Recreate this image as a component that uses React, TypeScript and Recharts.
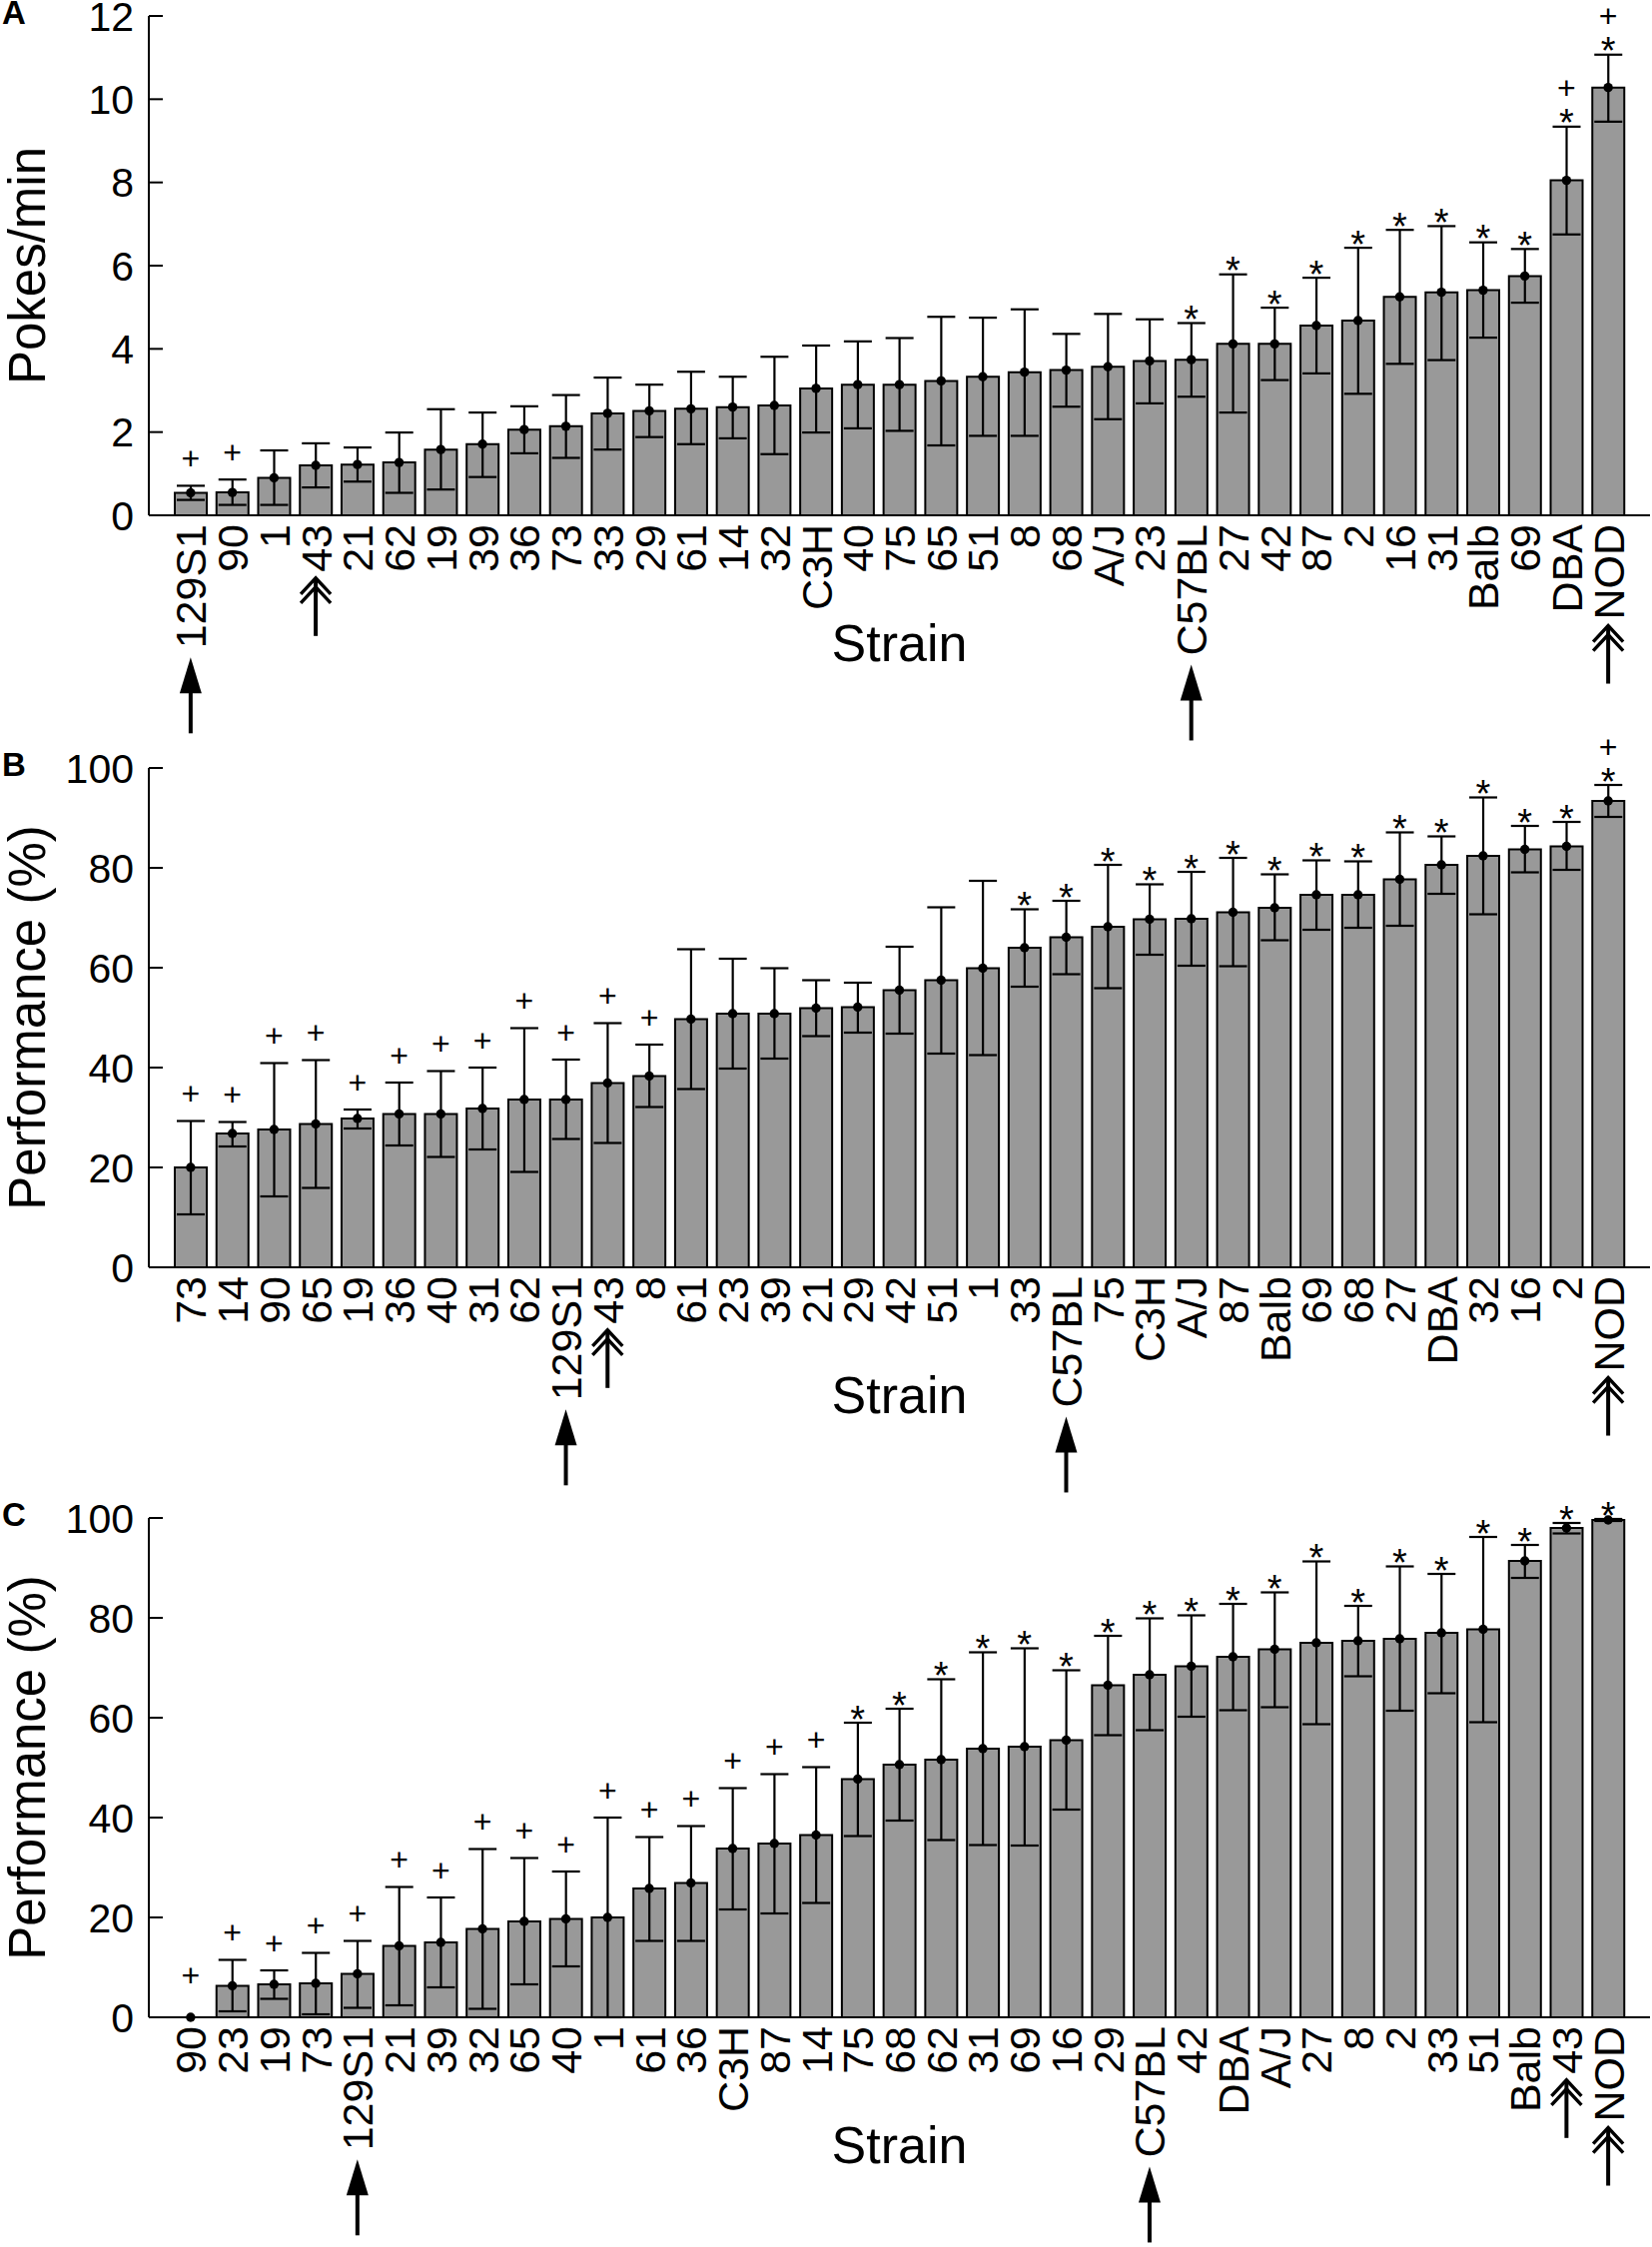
import React from 'react'
import { ComposedChart, Bar, Line, XAxis, YAxis, ErrorBar, Label } from 'recharts'

const FONT = '"Liberation Sans", Arial, sans-serif'

// Panel A: pokes per minute
const strainsA = ['129S1', '90', '1', '43', '21', '62', '19', '39', '36', '73', '33', '29', '61', '14', '32', 'C3H', '40', '75', '65', '51', '8', '68', 'A/J', '23', 'C57BL', '27', '42', '87', '2', '16', '31', 'Balb', '69', 'DBA', 'NOD']
const meanA = [0.54, 0.55, 0.9, 1.2, 1.22, 1.27, 1.58, 1.71, 2.06, 2.14, 2.45, 2.51, 2.56, 2.6, 2.64, 3.05, 3.14, 3.14, 3.23, 3.33, 3.44, 3.49, 3.57, 3.71, 3.74, 4.12, 4.12, 4.56, 4.68, 5.25, 5.36, 5.41, 5.75, 8.05, 10.28]
const lowA = [0.37, 0.25, 0.25, 0.67, 0.81, 0.54, 0.62, 0.92, 1.49, 1.38, 1.58, 1.88, 1.71, 1.85, 1.47, 1.99, 2.09, 2.03, 1.68, 1.91, 1.91, 2.61, 2.31, 2.69, 2.85, 2.47, 3.25, 3.41, 2.92, 3.64, 3.73, 4.27, 5.11, 6.75, 9.46]
const highA = [0.71, 0.86, 1.56, 1.73, 1.63, 1.99, 2.55, 2.47, 2.62, 2.89, 3.31, 3.14, 3.45, 3.33, 3.81, 4.08, 4.18, 4.26, 4.77, 4.75, 4.95, 4.36, 4.84, 4.71, 4.62, 5.79, 4.99, 5.71, 6.43, 6.86, 6.95, 6.56, 6.4, 9.34, 11.07]
const marksA = ['+', '+', '', '', '', '', '', '', '', '', '', '', '', '', '', '', '', '', '', '', '', '', '', '', '*', '*', '*', '*', '*', '*', '*', '*', '*', '*+', '*+']
const arrowsA: Record<string, string> = { '129S1': 'single', '43': 'double', C57BL: 'single', NOD: 'double' }

// Panel B: performance (%)
const strainsB = ['73', '14', '90', '65', '19', '36', '40', '31', '62', '129S1', '43', '8', '61', '23', '39', '21', '29', '42', '51', '1', '33', 'C57BL', '75', 'C3H', 'A/J', '87', 'Balb', '69', '68', '27', 'DBA', '32', '16', '2', 'NOD']
const meanB = [20.0, 26.8, 27.6, 28.7, 29.8, 30.7, 30.7, 31.8, 33.6, 33.6, 36.9, 38.3, 49.7, 50.8, 50.8, 51.9, 52.1, 55.5, 57.5, 59.9, 64.0, 66.1, 68.2, 69.7, 69.8, 71.1, 72.0, 74.6, 74.6, 77.7, 80.6, 82.4, 83.7, 84.3, 93.4]
const lowB = [10.6, 24.2, 14.2, 15.9, 27.8, 24.4, 22.1, 23.6, 19.1, 25.7, 24.9, 32.1, 35.7, 39.8, 41.8, 46.3, 47.0, 46.8, 42.8, 42.5, 56.2, 58.7, 55.9, 62.6, 60.4, 60.3, 65.5, 67.6, 68.0, 68.4, 74.8, 70.7, 79.1, 79.6, 90.2]
const highB = [29.3, 29.1, 40.9, 41.5, 31.6, 37.0, 39.3, 40.0, 47.9, 41.6, 48.9, 44.6, 63.7, 61.8, 59.9, 57.5, 57.0, 64.2, 72.1, 77.4, 71.7, 73.4, 80.6, 76.7, 79.2, 82.0, 78.7, 81.5, 81.3, 87.1, 86.3, 94.1, 88.4, 89.2, 96.6]
const marksB = ['+', '+', '+', '+', '+', '+', '+', '+', '+', '+', '+', '+', '', '', '', '', '', '', '', '', '*', '*', '*', '*', '*', '*', '*', '*', '*', '*', '*', '*', '*', '*', '*+']
const arrowsB: Record<string, string> = { '129S1': 'single', '43': 'double', C57BL: 'single', NOD: 'double' }

// Panel C: performance (%)
const strainsC = ['90', '23', '19', '73', '129S1', '21', '39', '32', '65', '40', '1', '61', '36', 'C3H', '87', '14', '75', '68', '62', '31', '69', '16', '29', 'C57BL', '42', 'DBA', 'A/J', '27', '8', '2', '33', '51', 'Balb', '43', 'NOD']
const meanC = [0, 6.3, 6.6, 6.8, 8.7, 14.3, 15.0, 17.7, 19.2, 19.7, 20.0, 25.8, 26.9, 33.8, 34.8, 36.5, 47.7, 50.6, 51.6, 53.8, 54.2, 55.5, 66.5, 68.6, 70.3, 72.2, 73.7, 75.0, 75.4, 75.8, 77.0, 77.7, 91.4, 98.0, 99.6]
const lowC = [0, 1.2, 3.7, 0.6, 1.9, 2.4, 6.0, 1.7, 6.6, 10.2, 0, 15.3, 15.3, 21.6, 20.8, 22.9, 36.3, 39.4, 35.5, 34.5, 34.4, 41.6, 56.5, 57.5, 60.2, 61.5, 62.1, 58.7, 68.3, 61.4, 64.9, 59.1, 88.0, 96.9, 99.4]
const highC = [2.9, 11.5, 9.4, 12.9, 15.3, 26.1, 24.0, 33.7, 31.9, 29.2, 40.0, 36.1, 38.3, 45.9, 48.7, 50.1, 59.0, 61.8, 67.7, 73.1, 73.9, 69.5, 76.4, 79.9, 80.5, 82.8, 85.1, 91.3, 82.4, 90.3, 88.8, 96.2, 94.6, 99.0, 99.8]
const marksC = ['+', '+', '+', '+', '+', '+', '+', '+', '+', '+', '+', '+', '+', '+', '+', '+', '*', '*', '*', '*', '*', '*', '*', '*', '*', '*', '*', '*', '*', '*', '*', '*', '*', '*', '*']
const arrowsC: Record<string, string> = { '129S1': 'single', C57BL: 'single', '43': 'double', NOD: 'double' }

const ticksA = [0, 2, 4, 6, 8, 10, 12]
const ticksPct = [0, 20, 40, 60, 80, 100]

// rough Arial advance widths, used to put the arrows just under the labels
const charW: Record<string, number> = { S: 0.667, C: 0.722, B: 0.667, L: 0.556, N: 0.722, O: 0.778, D: 0.722 }
const textLen = (s: string, size: number) => s.split('').reduce((sum, c) => sum + (charW[c] ?? 0.556), 0) * size

const LABEL_SIZE = 43

function StrainTick(props: any) {
  const { x, y, payload, arrows } = props
  const name = String(payload.value)
  const kind = arrows[name]
  const end = y + textLen(name, LABEL_SIZE)
  return (
    <g>
      <text
        transform={`translate(${x + 15.5},${y}) rotate(-90)`}
        textAnchor="end"
        fontSize={LABEL_SIZE}
        fontFamily={FONT}
        fill="#000"
      >
        {name}
      </text>
      {kind === 'single' && (
        <g transform={`translate(${x},${end + 9})`}>
          <polygon points="0,0 -11,36 11,36" fill="#000" />
          <line x1={0} y1={30} x2={0} y2={76} stroke="#000" strokeWidth={4} />
        </g>
      )}
      {kind === 'double' && (
        <g transform={`translate(${x},${end + 5})`} fill="none" stroke="#000" strokeWidth={3.4}>
          <polyline points="-15,17 0,1 15,17" />
          <polyline points="-15,26 0,10 15,26" />
          <line x1={0} y1={1} x2={0} y2={59} strokeWidth={4} />
        </g>
      )}
    </g>
  )
}

function ValueTick(props: any) {
  const { x, y, payload } = props
  const axisX = x + 15
  return (
    <g>
      <line x1={axisX} x2={axisX + 14} y1={y} y2={y} stroke="#000" strokeWidth={2} />
      <text x={x} y={y} dy="0.36em" textAnchor="end" fontSize={41} fontFamily={FONT} fill="#000">
        {payload.value}
      </text>
    </g>
  )
}

function MarkDot(props: any) {
  const { cx, cy, payload, index } = props
  const m = payload.mark
  if (!m || cy == null) return <g key={`m${index}`} />
  const star = m.includes('*')
  const plus = m.includes('+')
  const plusY = star ? cy - 38.5 : cy - 27.5
  return (
    <g key={`m${index}`} fontFamily={FONT} fill="#000" textAnchor="middle">
      {star && (
        <text x={cx} y={cy - 12.5 + 22} fontSize={38}>
          *
        </text>
      )}
      {plus && (
        <text x={cx} y={plusY + 11} fontSize={32}>
          +
        </text>
      )}
    </g>
  )
}

type PanelProps = {
  letter: string
  top: number
  strains: string[]
  mean: number[]
  low: number[]
  high: number[]
  marks: string[]
  arrows: Record<string, string>
  yMax: number
  yTicks: number[]
  yTitle: string
}

const W = 1654
const PLOT_TOP = 50
const PLOT_H = 500
const BOTTOM = 230
const H = PLOT_TOP + PLOT_H + BOTTOM

function Panel({ letter, top, strains, mean, low, high, marks, arrows, yMax, yTicks, yTitle }: PanelProps) {
  const rows = strains.map((s, i) => ({
    strain: s,
    mean: mean[i],
    err: [mean[i] - low[i], high[i] - mean[i]],
    top: high[i],
    mark: marks[i],
  }))

  return (
    <div style={{ position: 'absolute', left: 0, top: top - PLOT_TOP, width: W, height: H }}>
      <ComposedChart width={W} height={H} data={rows} margin={{ top: PLOT_TOP, right: 2, bottom: 0, left: 0 }}>
        <XAxis
          dataKey="strain"
          interval={0}
          height={BOTTOM}
          padding={{ left: 21, right: 21 }}
          tickLine={false}
          tickSize={0}
          tickMargin={9}
          axisLine={{ stroke: '#000', strokeWidth: 2 }}
          tick={(p: any) => <StrainTick {...p} arrows={arrows} />}
        >
          <Label
            content={(p: any) => {
              const vb = p.viewBox
              return (
                <text x={vb.x + vb.width / 2} y={vb.y + 146} textAnchor="middle" fontSize={52} fontFamily={FONT} fill="#000">
                  Strain
                </text>
              )
            }}
          />
        </XAxis>
        <YAxis
          type="number"
          domain={[0, yMax]}
          ticks={yTicks}
          interval={0}
          width={149}
          tickLine={false}
          tickSize={0}
          tickMargin={15}
          axisLine={{ stroke: '#000', strokeWidth: 2 }}
          tick={<ValueTick />}
        >
          <Label
            content={(p: any) => {
              const vb = p.viewBox
              return (
                <g fontFamily={FONT} fill="#000">
                  <text transform={`translate(${vb.x + 45},${vb.y + vb.height / 2}) rotate(-90)`} textAnchor="middle" fontSize={51}>
                    {yTitle}
                  </text>
                  <text x={2} y={vb.y + 8} fontSize={33} fontWeight="bold">
                    {letter}
                  </text>
                </g>
              )
            }}
          />
        </YAxis>
        <Bar dataKey="mean" fill="#999999" stroke="#000" strokeWidth={2} barSize={32} isAnimationActive={false}>
          <ErrorBar dataKey="err" direction="y" width={14} stroke="#000" strokeWidth={2.2} />
        </Bar>
        <Line
          dataKey="mean"
          stroke="none"
          dot={{ r: 4.7, fill: '#000', stroke: 'none' }}
          activeDot={false}
          isAnimationActive={false}
        />
        <Line dataKey="top" stroke="none" dot={MarkDot} activeDot={false} isAnimationActive={false} />
      </ComposedChart>
    </div>
  )
}

export default function App() {
  return (
    <div style={{ position: 'absolute', left: 0, top: 0, width: 1654, height: 2250, background: '#fff', fontFamily: FONT, overflow: 'hidden' }}>
      <Panel letter="A" top={16} strains={strainsA} mean={meanA} low={lowA} high={highA} marks={marksA} arrows={arrowsA} yMax={12} yTicks={ticksA} yTitle="Pokes/min" />
      <Panel letter="B" top={769} strains={strainsB} mean={meanB} low={lowB} high={highB} marks={marksB} arrows={arrowsB} yMax={100} yTicks={ticksPct} yTitle="Performance (%)" />
      <Panel letter="C" top={1520} strains={strainsC} mean={meanC} low={lowC} high={highC} marks={marksC} arrows={arrowsC} yMax={100} yTicks={ticksPct} yTitle="Performance (%)" />
    </div>
  )
}
